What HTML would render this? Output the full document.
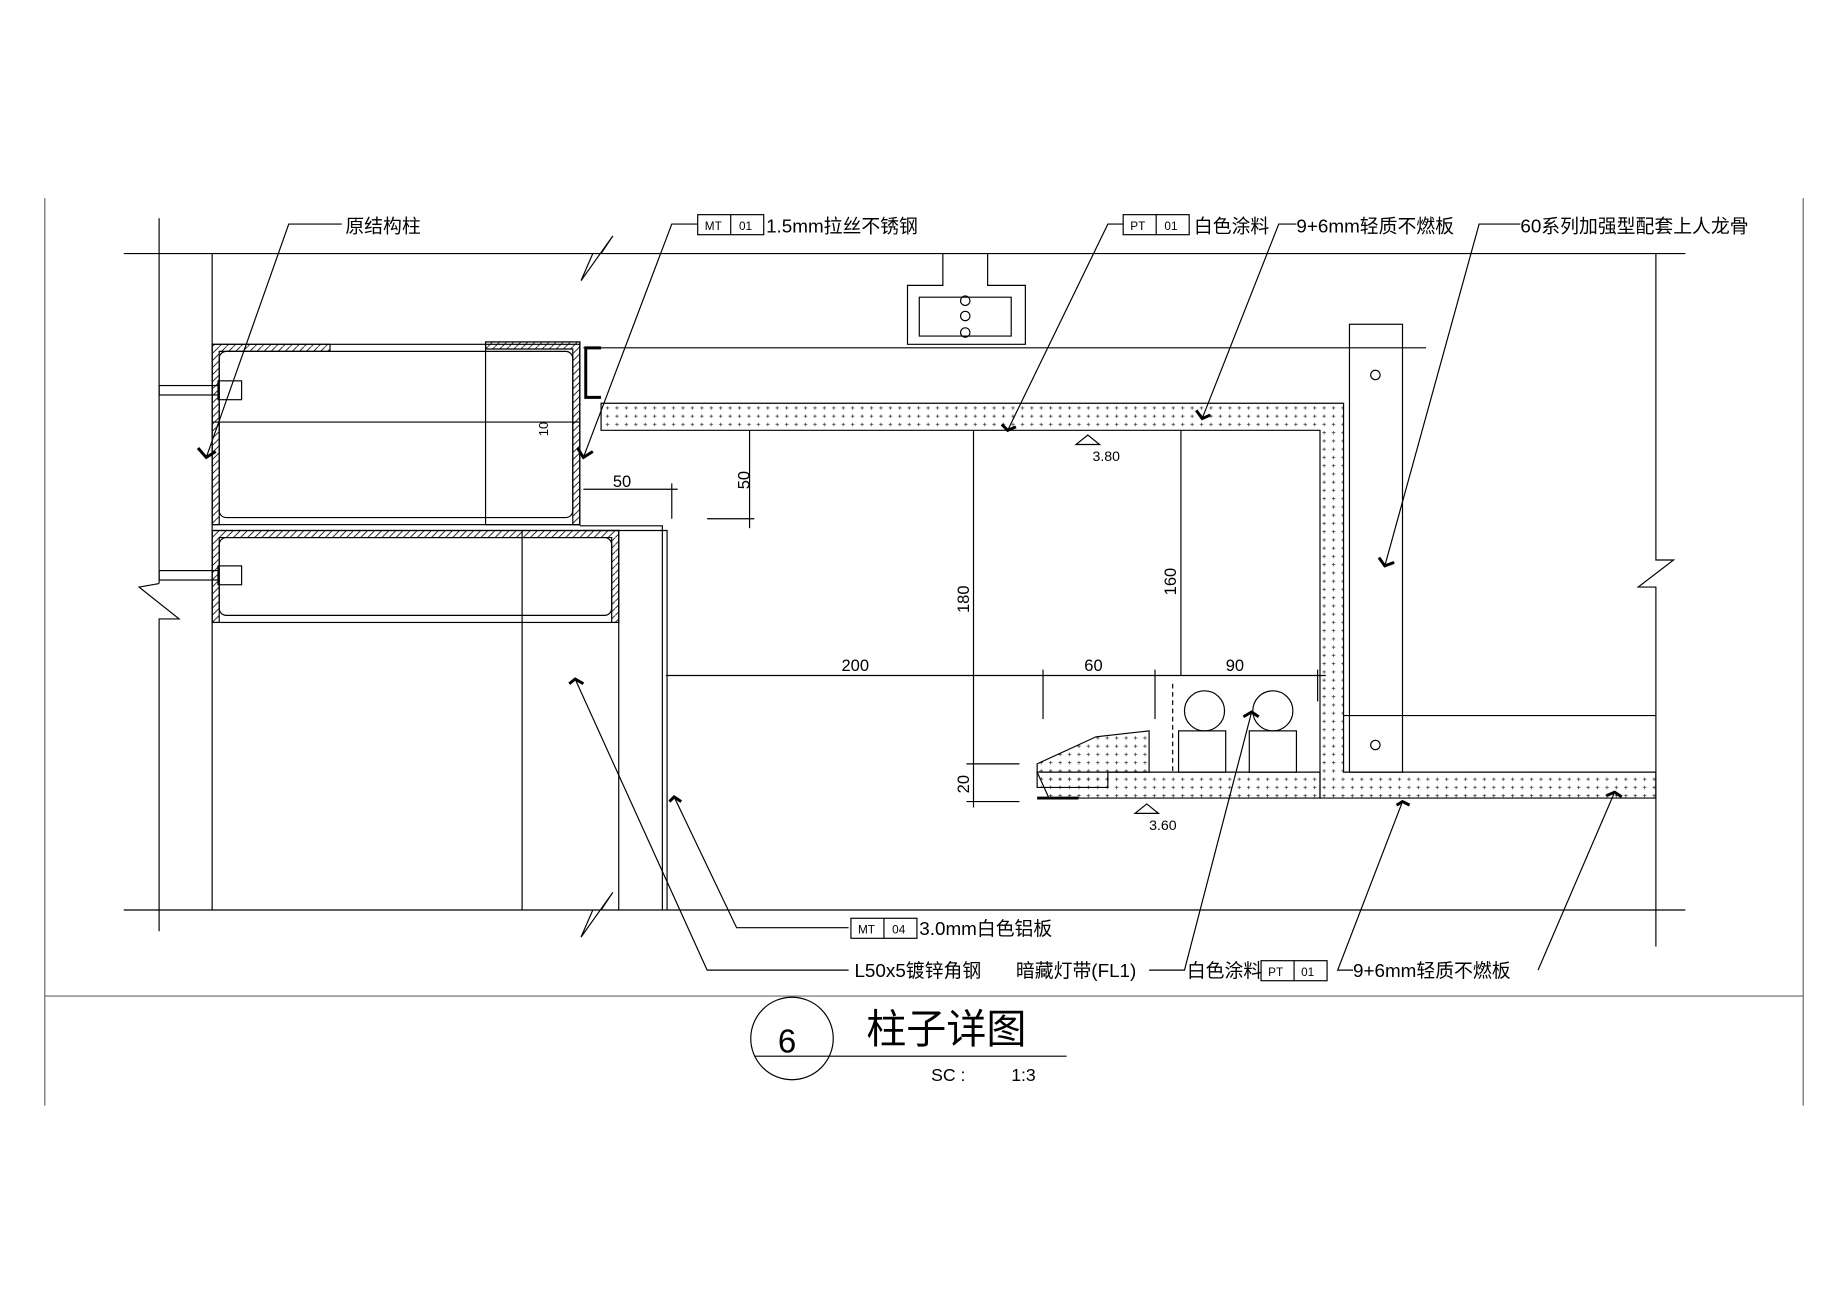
<!DOCTYPE html>
<html><head><meta charset="utf-8"><style>
html,body{margin:0;padding:0;background:#fff}
svg{display:block}
text{font-family:"Liberation Sans","Noto Sans CJK SC",sans-serif;fill:#000}
</style></head><body>
<svg width="1848" height="1305" viewBox="0 0 1568 1107" xmlns="http://www.w3.org/2000/svg">
<defs>
<pattern id="dots" width="8" height="7" patternUnits="userSpaceOnUse"><path d="M2 3h3M3.5 1.5v3" stroke="#333" stroke-width="0.6"/></pattern>
<pattern id="hatch" width="6" height="6" patternUnits="userSpaceOnUse"><path d="M0 6L6 0" stroke="#000" stroke-width="0.7"/></pattern>
</defs>
<g stroke="#000" fill="none" stroke-width="1">
<!-- frame -->
<line x1="38" y1="168" x2="38" y2="938" stroke="#666"/>
<line x1="1530" y1="168" x2="1530" y2="938" stroke="#666"/>
<line x1="38" y1="845" x2="1530" y2="845" stroke="#666"/>
<!-- top/bottom break lines -->
<polyline points="105,215 510,215 520,200 493,238 503,215 1430,215"/>
<polyline points="105,772 510,772 520,757 493,795 503,772 1430,772"/>
<polyline points="1405,215 1405,475 1420,475 1390,498 1405,498 1405,803"/>
<!-- column -->
<line x1="135" y1="185" x2="135" y2="495"/>
<polyline points="135,495 118,498 152,525 135,525 135,790"/>
<line x1="180" y1="215" x2="180" y2="772"/>
<!-- channels -->
<rect x="180" y="292" width="312" height="153"/>
<path d="M180 292h100v6h-94v147h-6z" fill="url(#hatch)"/>
<rect x="186" y="298" width="300" height="141" rx="6"/>
<rect x="412" y="290" width="80" height="155"/>
<path d="M412 290h80v155h-6v-149h-74z" fill="url(#hatch)"/>
<rect x="180" y="450" width="345" height="78"/>
<path d="M180 450h345v78h-6v-72h-333v72h-6z" fill="url(#hatch)"/>
<rect x="186" y="456" width="333" height="66" rx="6"/>
<line x1="443" y1="450" x2="443" y2="772"/>
<line x1="525" y1="528" x2="525" y2="772"/>
<!-- bolts -->
<rect x="135" y="327" width="50" height="8"/><rect x="135" y="484" width="50" height="8"/>
<rect x="185" y="323" width="20" height="16"/><rect x="185" y="480" width="20" height="16"/>
<line x1="180" y1="358" x2="492" y2="358"/>
<!-- L angle / panels -->
<polyline points="492,446 562,446 562,772" /><polyline points="492,450 566,450 566,772"/>
<line x1="495" y1="295" x2="1210" y2="295"/>
<polyline points="510,295 497,295 497,337 510,337" stroke-width="2.5"/>
<!-- ceiling board -->
<path d="M510 342H1140V655H1405V677H1120V365H510Z" fill="url(#dots)"/>
<path d="M880 655H1120V677H890Z" fill="url(#dots)"/>
<path d="M880 648L930 625L975 620L975 655H940V668H880Z" fill="url(#dots)"/>
<line x1="880" y1="677" x2="915" y2="677" stroke-width="2.5"/>
<!-- hanger -->
<rect x="1145" y="275" width="45" height="380"/>
<circle cx="1167" cy="318" r="4"/><circle cx="1167" cy="632" r="4"/>
<line x1="1140" y1="607" x2="1405" y2="607"/>
<!-- top channel -->
<path d="M800 215V242H770V292H870V242H838V215" />
<path d="M780 252H858V285H780Z"/>
<circle cx="819" cy="255" r="4"/><circle cx="819" cy="268" r="4"/><circle cx="819" cy="282" r="4"/>
<!-- light tubes -->
<circle cx="1022" cy="603" r="17"/><circle cx="1080" cy="603" r="17"/>
<rect x="1000" y="620" width="40" height="35"/><rect x="1060" y="620" width="40" height="35"/>
<line x1="995" y1="580" x2="995" y2="655" stroke-dasharray="4 3"/>
<!-- dimensions -->
<line x1="565" y1="573" x2="1125" y2="573"/>
<line x1="885" y1="568" x2="885" y2="610"/><line x1="980" y1="568" x2="980" y2="610"/>
<line x1="1118" y1="568" x2="1118" y2="595"/>
<line x1="826" y1="365" x2="826" y2="685"/>
<line x1="1002" y1="365" x2="1002" y2="573"/>
<line x1="820" y1="648" x2="865" y2="648"/><line x1="820" y1="680" x2="865" y2="680"/>
<line x1="600" y1="440" x2="640" y2="440"/><line x1="636" y1="365" x2="636" y2="448"/>
<line x1="495" y1="415" x2="575" y2="415"/><line x1="570" y1="410" x2="570" y2="440"/>
<!-- elev marks -->
<path d="M913 377h20l-10-8z"/><path d="M963 690h20l-10-8z"/>
<!-- leaders -->
<polyline points="290,190 245,190 175,388"/>
<polyline points="592,190 570,190 495,388"/>
<polyline points="953,190 940,190 855,365"/>
<polyline points="1100,190 1085,190 1020,355"/>
<polyline points="1290,190 1255,190 1175,480"/>
<polyline points="720,787 625,787 572,676"/>
<polyline points="720,823 600,823 488,576"/>
<polyline points="975,823 1005,823 1062,604"/>
<polyline points="1148,823 1135,823 1190,680"/>
<polyline points="1305,823 1370,672"/>
<!-- tags -->
<rect x="592" y="182" width="56" height="17"/><line x1="620" y1="182" x2="620" y2="199"/>
<rect x="953" y="182" width="56" height="17"/><line x1="981" y1="182" x2="981" y2="199"/>
<rect x="722" y="779" width="56" height="17"/><line x1="750" y1="779" x2="750" y2="796"/>
<rect x="1070" y="815" width="56" height="17"/><line x1="1098" y1="815" x2="1098" y2="832"/>
<!-- title -->
<circle cx="672" cy="881" r="35"/>
<line x1="640" y1="896" x2="905" y2="896"/>
</g>
<g stroke="#000" stroke-width="2.5" fill="none">
<polyline points="168,380 175,388 183,383"/><polyline points="490,380 495,388 503,383"/>
<polyline points="850,360 855,365 862,362"/><polyline points="1015,348 1020,355 1027,352"/>
<polyline points="1170,473 1175,480 1183,477"/><polyline points="568,680 572,676 578,680"/>
<polyline points="483,580 488,576 495,580"/><polyline points="1055,608 1062,604 1068,608"/>
<polyline points="1185,683 1190,680 1196,683"/><polyline points="1363,675 1370,672 1376,676"/>
</g>
<g font-size="16">
<text x="293" y="197">原结构柱</text>
<text x="598" y="195" font-size="10">MT</text><text x="627" y="195" font-size="10">01</text>
<text x="650" y="197">1.5mm拉丝不锈钢</text>
<text x="959" y="195" font-size="10">PT</text><text x="988" y="195" font-size="10">01</text>
<text x="1013" y="197">白色涂料</text>
<text x="1100" y="197">9+6mm轻质不燃板</text>
<text x="1290" y="197">60系列加强型配套上人龙骨</text>
<text x="728" y="792" font-size="10">MT</text><text x="757" y="792" font-size="10">04</text>
<text x="780" y="793">3.0mm白色铝板</text>
<text x="725" y="829">L50x5镀锌角钢</text>
<text x="862" y="829">暗藏灯带(FL1)</text>
<text x="1007" y="829">白色涂料</text>
<text x="1076" y="828" font-size="10">PT</text><text x="1104" y="828" font-size="10">01</text>
<text x="1148" y="829">9+6mm轻质不燃板</text>
<text x="520" y="413" font-size="14">50</text>
<text x="714" y="569" font-size="14">200</text>
<text x="920" y="569" font-size="14">60</text>
<text x="1040" y="569" font-size="14">90</text>
<text x="927" y="391" font-size="12">3.80</text>
<text x="975" y="704" font-size="12">3.60</text>
<text x="636" y="415" font-size="14" transform="rotate(-90 636 415)">50</text>
<text x="822" y="520" font-size="14" transform="rotate(-90 822 520)">180</text>
<text x="998" y="505" font-size="14" transform="rotate(-90 998 505)">160</text>
<text x="822" y="673" font-size="14" transform="rotate(-90 822 673)">20</text>
<text x="465" y="370" font-size="11" transform="rotate(-90 465 370)">10</text>
<text x="660" y="893" font-size="28">6</text>
<text x="735" y="885" font-size="34">柱子详图</text>
<text x="790" y="917" font-size="15">SC :</text>
<text x="858" y="917" font-size="15">1:3</text>
</g>
</svg>
</body></html>
